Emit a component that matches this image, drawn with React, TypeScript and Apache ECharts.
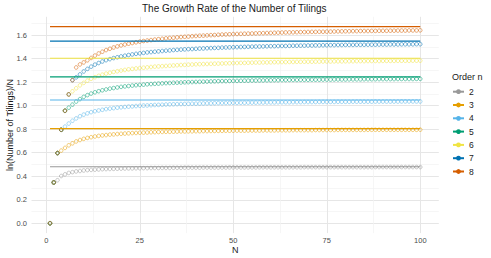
import React, { useEffect, useRef } from "react";
import * as echarts from "echarts";

const N = Array.from({ length: 100 }, (_, i) => i + 1);
const orders = ["2", "3", "4", "5", "6", "7", "8"];
const colors = ["#999999", "#E69F00", "#56B4E9", "#009E73", "#F0E442", "#0072B2", "#D55E00"];
const asymptotes = [0.4812, 0.8047, 1.0487, 1.2447, 1.404, 1.549, 1.6726];

const xMajor = [0, 25, 50, 75, 100];
const xMinor = [12.5, 37.5, 62.5, 87.5];
const yMajor = [0, 0.2, 0.4, 0.6, 0.8, 1.0, 1.2, 1.4, 1.6];
const yMinor = [0.1, 0.3, 0.5, 0.7, 0.9, 1.1, 1.3, 1.5, 1.7];

const rate2 = [
  0, 0.347, 0.366, 0.402, 0.416, 0.428, 0.435, 0.441, 0.445, 0.449,
  0.452, 0.454, 0.456, 0.458, 0.46, 0.461, 0.462, 0.463, 0.464, 0.465,
  0.466, 0.467, 0.467, 0.468, 0.468, 0.469, 0.469, 0.47, 0.47, 0.47,
  0.471, 0.471, 0.471, 0.472, 0.472, 0.472, 0.473, 0.473, 0.473, 0.473,
  0.473, 0.474, 0.474, 0.474, 0.474, 0.474, 0.474, 0.474, 0.475, 0.475,
  0.475, 0.475, 0.475, 0.475, 0.475, 0.475, 0.476, 0.476, 0.476, 0.476,
  0.476, 0.476, 0.476, 0.476, 0.476, 0.476, 0.476, 0.476, 0.477, 0.477,
  0.477, 0.477, 0.477, 0.477, 0.477, 0.477, 0.477, 0.477, 0.477, 0.477,
  0.477, 0.477, 0.477, 0.477, 0.477, 0.477, 0.477, 0.478, 0.478, 0.478,
  0.478, 0.478, 0.478, 0.478, 0.478, 0.478, 0.478, 0.478, 0.478, 0.478,
];
const rate3 = [
  0, 0.347, 0.597, 0.618, 0.641, 0.663, 0.68, 0.696, 0.708, 0.718,
  0.726, 0.732, 0.738, 0.743, 0.747, 0.75, 0.754, 0.756, 0.759, 0.761,
  0.763, 0.765, 0.767, 0.768, 0.77, 0.771, 0.772, 0.774, 0.775, 0.776,
  0.777, 0.778, 0.778, 0.779, 0.78, 0.781, 0.781, 0.782, 0.782, 0.783,
  0.783, 0.784, 0.784, 0.785, 0.785, 0.786, 0.786, 0.787, 0.787, 0.787,
  0.788, 0.788, 0.788, 0.789, 0.789, 0.789, 0.789, 0.79, 0.79, 0.79,
  0.79, 0.791, 0.791, 0.791, 0.791, 0.792, 0.792, 0.792, 0.792, 0.792,
  0.792, 0.793, 0.793, 0.793, 0.793, 0.793, 0.793, 0.794, 0.794, 0.794,
  0.794, 0.794, 0.794, 0.794, 0.794, 0.795, 0.795, 0.795, 0.795, 0.795,
  0.795, 0.795, 0.795, 0.795, 0.795, 0.795, 0.795, 0.795, 0.795, 0.796,
];
const rate4 = [
  0, 0.347, 0.597, 0.795, 0.822, 0.848, 0.872, 0.892, 0.91, 0.924,
  0.935, 0.945, 0.953, 0.959, 0.965, 0.971, 0.975, 0.979, 0.983, 0.986,
  0.989, 0.992, 0.994, 0.997, 0.999, 1.001, 1.002, 1.004, 1.006, 1.007,
  1.008, 1.01, 1.011, 1.012, 1.013, 1.014, 1.015, 1.016, 1.017, 1.017,
  1.018, 1.019, 1.02, 1.02, 1.021, 1.022, 1.022, 1.023, 1.023, 1.024,
  1.024, 1.025, 1.025, 1.026, 1.026, 1.026, 1.027, 1.027, 1.028, 1.028,
  1.028, 1.029, 1.029, 1.029, 1.029, 1.03, 1.03, 1.03, 1.031, 1.031,
  1.031, 1.031, 1.032, 1.032, 1.032, 1.032, 1.032, 1.033, 1.033, 1.033,
  1.033, 1.034, 1.034, 1.034, 1.034, 1.034, 1.034, 1.035, 1.035, 1.035,
  1.035, 1.035, 1.035, 1.035, 1.036, 1.036, 1.036, 1.036, 1.036, 1.036,
];
const rate5 = [
  0, 0.347, 0.597, 0.795, 0.957, 0.983, 1.009, 1.035, 1.056, 1.075,
  1.09, 1.103, 1.114, 1.123, 1.131, 1.138, 1.145, 1.15, 1.155, 1.16,
  1.164, 1.167, 1.171, 1.174, 1.177, 1.179, 1.182, 1.184, 1.186, 1.188,
  1.19, 1.192, 1.193, 1.195, 1.196, 1.197, 1.199, 1.2, 1.201, 1.202,
  1.203, 1.204, 1.205, 1.206, 1.207, 1.208, 1.209, 1.209, 1.21, 1.211,
  1.211, 1.212, 1.213, 1.213, 1.214, 1.214, 1.215, 1.215, 1.216, 1.216,
  1.217, 1.217, 1.218, 1.218, 1.219, 1.219, 1.219, 1.22, 1.22, 1.22,
  1.221, 1.221, 1.221, 1.222, 1.222, 1.222, 1.223, 1.223, 1.223, 1.223,
  1.224, 1.224, 1.224, 1.224, 1.225, 1.225, 1.225, 1.225, 1.226, 1.226,
  1.226, 1.226, 1.226, 1.227, 1.227, 1.227, 1.227, 1.227, 1.228, 1.228,
];
const rate6 = [
  0, 0.347, 0.597, 0.795, 0.957, 1.096, 1.122, 1.148, 1.173, 1.194,
  1.213, 1.229, 1.242, 1.254, 1.264, 1.273, 1.28, 1.287, 1.293, 1.299,
  1.304, 1.309, 1.313, 1.317, 1.32, 1.323, 1.326, 1.329, 1.332, 1.334,
  1.336, 1.338, 1.34, 1.342, 1.344, 1.346, 1.347, 1.349, 1.35, 1.352,
  1.353, 1.354, 1.355, 1.356, 1.357, 1.358, 1.359, 1.36, 1.361, 1.362,
  1.363, 1.364, 1.364, 1.365, 1.366, 1.367, 1.367, 1.368, 1.368, 1.369,
  1.37, 1.37, 1.371, 1.371, 1.372, 1.372, 1.373, 1.373, 1.374, 1.374,
  1.374, 1.375, 1.375, 1.376, 1.376, 1.376, 1.377, 1.377, 1.377, 1.378,
  1.378, 1.378, 1.379, 1.379, 1.379, 1.38, 1.38, 1.38, 1.38, 1.381,
  1.381, 1.381, 1.381, 1.382, 1.382, 1.382, 1.382, 1.383, 1.383, 1.383,
];
const rate7 = [
  0, 0.347, 0.597, 0.795, 0.957, 1.096, 1.217, 1.241, 1.266, 1.291,
  1.313, 1.332, 1.349, 1.363, 1.376, 1.387, 1.396, 1.405, 1.412, 1.419,
  1.425, 1.431, 1.436, 1.441, 1.445, 1.449, 1.453, 1.456, 1.459, 1.462,
  1.465, 1.468, 1.47, 1.473, 1.475, 1.477, 1.479, 1.481, 1.482, 1.484,
  1.486, 1.487, 1.489, 1.49, 1.491, 1.492, 1.494, 1.495, 1.496, 1.497,
  1.498, 1.499, 1.5, 1.501, 1.502, 1.503, 1.503, 1.504, 1.505, 1.506,
  1.506, 1.507, 1.508, 1.508, 1.509, 1.51, 1.51, 1.511, 1.511, 1.512,
  1.512, 1.513, 1.513, 1.514, 1.514, 1.515, 1.515, 1.516, 1.516, 1.517,
  1.517, 1.517, 1.518, 1.518, 1.518, 1.519, 1.519, 1.519, 1.52, 1.52,
  1.52, 1.521, 1.521, 1.521, 1.522, 1.522, 1.522, 1.522, 1.523, 1.523,
];
const rate8 = [
  0, 0.347, 0.597, 0.795, 0.957, 1.096, 1.217, 1.325, 1.351, 1.368,
  1.386, 1.406, 1.426, 1.444, 1.459, 1.473, 1.484, 1.495, 1.504, 1.513,
  1.52, 1.527, 1.533, 1.539, 1.545, 1.55, 1.554, 1.558, 1.562, 1.566,
  1.569, 1.573, 1.576, 1.578, 1.581, 1.584, 1.586, 1.588, 1.591, 1.593,
  1.595, 1.596, 1.598, 1.6, 1.601, 1.603, 1.605, 1.606, 1.607, 1.609,
  1.61, 1.611, 1.612, 1.613, 1.614, 1.615, 1.616, 1.617, 1.618, 1.619,
  1.62, 1.621, 1.622, 1.623, 1.623, 1.624, 1.625, 1.626, 1.626, 1.627,
  1.628, 1.628, 1.629, 1.629, 1.63, 1.63, 1.631, 1.632, 1.632, 1.633,
  1.633, 1.634, 1.634, 1.635, 1.635, 1.635, 1.636, 1.636, 1.637, 1.637,
  1.637, 1.638, 1.638, 1.639, 1.639, 1.639, 1.64, 1.64, 1.64, 1.641,
];
const rates = [rate2, rate3, rate4, rate5, rate6, rate7, rate8];

const FONT = "Liberation Sans, Arial, sans-serif";

export default function App() {
  const ref = useRef<HTMLDivElement>(null);
  useEffect(() => {
    if (!ref.current) return;
    const chart = echarts.init(ref.current, undefined, { renderer: "svg" });
    const lineSeries = orders.map((o, i) => ({
      type: "line",
      name: o,
      data: [[N[0], asymptotes[i]], [N[N.length - 1], asymptotes[i]]],
      symbol: "circle",
      symbolSize: 4,
      showSymbol: false,
      lineStyle: { color: colors[i], width: 1.1 },
      itemStyle: { color: colors[i] },
      silent: true,
      z: 3,
    }));
    const pointSeries = orders.map((o, i) => ({
      type: "scatter",
      name: o,
      data: N.map((n, j) => [n, rates[i][j]]),
      symbol: "circle",
      symbolSize: 3.6,
      itemStyle: {
        color: "rgba(0,0,0,0)",
        borderColor: colors[i],
        borderWidth: 0.9,
        opacity: 0.6,
      },
      silent: true,
      z: 2,
    }));
    chart.setOption({
      animation: false,
      backgroundColor: "#ffffff",
      textStyle: { fontFamily: FONT },
      title: [
        {
          text: "The Growth Rate of the Number of Tilings",
          left: 142,
          top: 3.5,
          padding: 0,
          textStyle: { fontSize: 10, fontWeight: "normal", color: "#1a1a1a", fontFamily: FONT },
        },
        {
          text: "Order n",
          left: 452,
          top: 72,
          padding: 0,
          textStyle: { fontSize: 9, fontWeight: "normal", color: "#1a1a1a", fontFamily: FONT },
        },
      ],
      legend: {
        orient: "vertical",
        left: 452,
        top: 86.7,
        padding: 0,
        itemWidth: 11,
        itemHeight: 6,
        itemGap: 3.3,
        data: orders,
        textStyle: { fontSize: 8.5, color: "#1a1a1a", lineHeight: 10, fontFamily: FONT },
      },
      grid: { left: 31.5, right: 52.2, top: 16.8, bottom: 24.9, outerBoundsMode: "none", containLabel: false },
      xAxis: [
        {
          type: "value",
          min: -3.95,
          max: 104.95,
          name: "N",
          nameLocation: "middle",
          nameGap: 12,
          nameMoveOverlap: false,
          nameTextStyle: { fontSize: 9, color: "#1a1a1a", fontFamily: FONT },
          axisLine: { show: false },
          axisTick: { show: false, customValues: xMajor },
          axisLabel: { customValues: xMajor, fontSize: 7.5, color: "#4d4d4d", margin: 3, fontFamily: FONT },
          splitLine: { show: true, lineStyle: { color: "#e6e6e6", width: 1 } },
        },
        {
          type: "value",
          min: -3.95,
          max: 104.95,
          position: "bottom",
          axisLine: { show: false },
          axisTick: { show: false, customValues: xMinor },
          axisLabel: { show: false, customValues: xMinor },
          splitLine: { show: true, lineStyle: { color: "#f2f2f2", width: 0.7 } },
        },
      ],
      yAxis: [
        {
          type: "value",
          min: -0.0836,
          max: 1.756,
          name: "ln(Number of Tilings)/N",
          nameLocation: "middle",
          nameGap: 17,
          nameMoveOverlap: false,
          nameTextStyle: { fontSize: 9, color: "#1a1a1a", fontFamily: FONT },
          axisLine: { show: false },
          axisTick: { show: false, customValues: yMajor },
          axisLabel: {
            customValues: yMajor,
            fontSize: 7.5,
            color: "#4d4d4d",
            margin: 4.5,
            fontFamily: FONT,
            formatter: (v: number) => v.toFixed(1),
          },
          splitLine: { show: true, lineStyle: { color: "#e6e6e6", width: 1 } },
        },
        {
          type: "value",
          min: -0.0836,
          max: 1.756,
          position: "left",
          axisLine: { show: false },
          axisTick: { show: false, customValues: yMinor },
          axisLabel: { show: false, customValues: yMinor },
          splitLine: { show: true, lineStyle: { color: "#f2f2f2", width: 0.7 } },
        },
      ],
      series: [...lineSeries, ...pointSeries],
    });
    return () => chart.dispose();
  }, []);
  return (
    <div
      ref={ref}
      style={{ position: "absolute", left: 0, top: 0, width: 491, height: 258 }}
    />
  );
}
